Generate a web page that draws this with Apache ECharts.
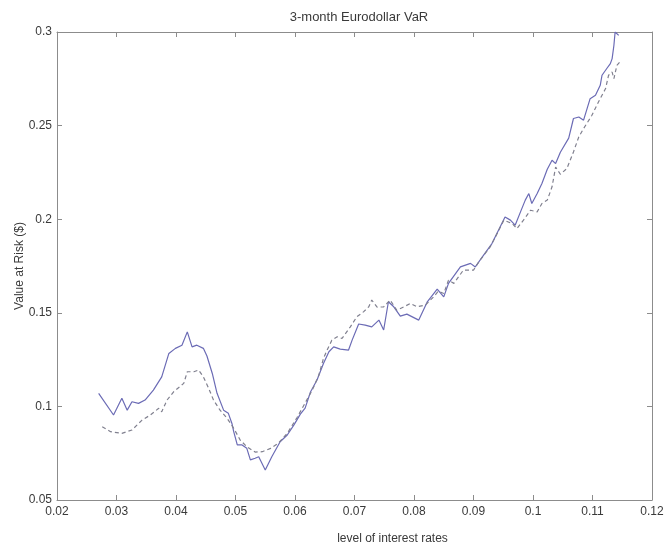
<!DOCTYPE html>
<html>
<head>
<meta charset="utf-8">
<script src="https://cdn.jsdelivr.net/npm/echarts@6/dist/echarts.min.js"></script>
<style>
html,body{margin:0;padding:0;background:#fff;}
#chart{width:667px;height:545px;}
</style>
</head>
<body>
<div id="chart"></div>
<script>
var titleText = '3-month Eurodollar VaR';
var xName = 'level of interest rates';
var yName = 'Value at Risk ($)';

var xTicksMin = 0.02, xTicksMax = 0.12, xTickStep = 0.01;
var yTicksMin = 0.05, yTicksMax = 0.3, yTickStep = 0.05;

// solid series
var solidX = [0.0270,0.0295,0.0309,0.0318,0.0326,0.0337,0.0348,0.0362,0.0376,0.0388,0.0399,0.0410,0.0419,0.0427,0.0435,0.0446,0.0452,0.0461,0.0469,0.0480,0.0488,0.0494,0.0497,0.0503,0.0511,0.0519,0.0525,0.0533,0.0539,0.0550,0.0561,0.0575,0.0587,0.0598,0.0609,0.0617,0.0626,0.0637,0.0648,0.0657,0.0665,0.0676,0.0690,0.0696,0.0707,0.0718,0.0729,0.0741,0.0749,0.0757,0.0766,0.0777,0.0788,0.0808,0.0822,0.0839,0.0850,0.0858,0.0878,0.0895,0.0903,0.0917,0.0931,0.0942,0.0953,0.0962,0.0970,0.0979,0.0987,0.0993,0.0998,0.1007,0.1015,0.1024,0.1032,0.1038,0.1046,0.1060,0.1068,0.1077,0.1085,0.1096,0.1105,0.1113,0.1116,0.1124,0.1130,0.1133,0.1136,0.1138,0.1144];
var solidY = [0.1070,0.0954,0.1043,0.0980,0.1025,0.1016,0.1034,0.1087,0.1158,0.1283,0.1310,0.1327,0.1398,0.1318,0.1327,0.1310,0.1269,0.1176,0.1070,0.0980,0.0963,0.0909,0.0865,0.0794,0.0794,0.0776,0.0714,0.0723,0.0731,0.0660,0.0731,0.0811,0.0847,0.0900,0.0959,0.0991,0.1077,0.1141,0.1230,0.1292,0.1318,0.1306,0.1301,0.1354,0.1440,0.1434,0.1425,0.1461,0.1408,0.1559,0.1532,0.1482,0.1493,0.1461,0.1557,0.1626,0.1585,0.1657,0.1745,0.1764,0.1745,0.1808,0.1870,0.1941,0.2012,0.1995,0.1968,0.2039,0.2102,0.2137,0.2084,0.2137,0.2191,0.2267,0.2315,0.2297,0.2358,0.2433,0.2538,0.2546,0.2529,0.2644,0.2662,0.2715,0.2769,0.2805,0.2831,0.2858,0.2929,0.3000,0.2982];

// dashed series
var dashX = [0.0276,0.0290,0.0309,0.0326,0.0343,0.0357,0.0371,0.0376,0.0385,0.0396,0.0413,0.0419,0.0430,0.0438,0.0446,0.0455,0.0463,0.0474,0.0486,0.0497,0.0508,0.0519,0.0533,0.0545,0.0559,0.0572,0.0587,0.0603,0.0617,0.0629,0.0640,0.0648,0.0654,0.0662,0.0671,0.0679,0.0693,0.0704,0.0715,0.0724,0.0729,0.0738,0.0749,0.0760,0.0771,0.0783,0.0794,0.0805,0.0819,0.0833,0.0841,0.0850,0.0858,0.0867,0.0883,0.0900,0.0911,0.0928,0.0937,0.0951,0.0965,0.0973,0.0984,0.0996,0.1007,0.1015,0.1024,0.1032,0.1038,0.1046,0.1057,0.1068,0.1077,0.1085,0.1099,0.1110,0.1122,0.1127,0.1133,0.1136,0.1141,0.1147];
var dashY = [0.0891,0.0865,0.0856,0.0874,0.0927,0.0954,0.0990,0.0971,0.1034,0.1078,0.1123,0.1185,0.1185,0.1194,0.1158,0.1096,0.1034,0.0980,0.0936,0.0883,0.0820,0.0785,0.0756,0.0758,0.0776,0.0803,0.0856,0.0938,0.1018,0.1087,0.1167,0.1258,0.1301,0.1354,0.1372,0.1363,0.1425,0.1479,0.1505,0.1532,0.1568,0.1530,0.1532,0.1568,0.1514,0.1532,0.1550,0.1532,0.1541,0.1585,0.1616,0.1603,0.1674,0.1657,0.1728,0.1728,0.1781,0.1852,0.1906,0.1995,0.1977,0.1950,0.1995,0.2048,0.2039,0.2084,0.2102,0.2173,0.2278,0.2240,0.2271,0.2359,0.2440,0.2484,0.2555,0.2626,0.2698,0.2769,0.2786,0.2751,0.2822,0.2844];

function pairs(xs, ys){ return xs.map(function(x,i){ return [x, ys[i]]; }); }

var FONT = 'Liberation Sans, Arial, Helvetica, sans-serif';
var AXIS_COLOR = '#8c8c8c';
var TEXT_COLOR = '#3a3a3a';
function fmt(v){ return String(+v.toFixed(4)); }

var baseX = {
  type: 'value', min: xTicksMin, max: xTicksMax, interval: xTickStep,
  axisLine: {show: true, lineStyle: {color: AXIS_COLOR, width: 1}},
  axisTick: {show: true, inside: true, length: 5, lineStyle: {color: AXIS_COLOR}},
  splitLine: {show: false}
};
var baseY = {
  type: 'value', min: yTicksMin, max: yTicksMax, interval: yTickStep,
  axisLine: {show: true, lineStyle: {color: AXIS_COLOR, width: 1}},
  axisTick: {show: true, inside: true, length: 5, lineStyle: {color: AXIS_COLOR}},
  splitLine: {show: false}
};

var chart = echarts.init(document.getElementById('chart'), null, {renderer: 'canvas'});
chart.setOption({
  backgroundColor: '#ffffff',
  animation: false,
  title: {
    text: titleText, left: 354, top: 6, textAlign: 'center',
    textStyle: {fontFamily: FONT, fontSize: 13, fontWeight: 'normal', color: TEXT_COLOR}
  },
  grid: {left: 57, right: 15, top: 32, bottom: 45, containLabel: false, outerBoundsMode: 'none'},
  xAxis: [
    Object.assign({}, baseX, {
      position: 'bottom',
      name: xName, nameLocation: 'middle', nameGap: 33, nameMoveOverlap: false,
      nameTextStyle: {fontFamily: FONT, fontSize: 12, color: TEXT_COLOR, padding: [0, 0, 0, 76]},
      axisLabel: {show: true, margin: 6, fontFamily: FONT, fontSize: 12, color: TEXT_COLOR, formatter: fmt}
    }),
    Object.assign({}, baseX, {position: 'top', axisLabel: {show: false}})
  ],
  yAxis: [
    Object.assign({}, baseY, {
      position: 'left',
      name: yName, nameLocation: 'middle', nameGap: 31, nameRotate: 90, nameMoveOverlap: false,
      nameTextStyle: {fontFamily: FONT, fontSize: 12, color: TEXT_COLOR},
      axisLabel: {show: true, margin: 5, fontFamily: FONT, fontSize: 12, color: TEXT_COLOR, formatter: fmt}
    }),
    Object.assign({}, baseY, {position: 'right', axisLabel: {show: false}})
  ],
  series: [
    {
      type: 'line', name: 'solid', xAxisIndex: 0, yAxisIndex: 0,
      data: pairs(solidX, solidY), showSymbol: false, symbol: 'none',
      lineStyle: {color: '#6b6bb5', width: 1.2, type: 'solid'}
    },
    {
      type: 'line', name: 'dashed', xAxisIndex: 0, yAxisIndex: 0,
      data: pairs(dashX, dashY), showSymbol: false, symbol: 'none',
      lineStyle: {color: '#80808f', width: 1.2, type: [4, 3]}
    }
  ]
});
</script>
</body>
</html>
